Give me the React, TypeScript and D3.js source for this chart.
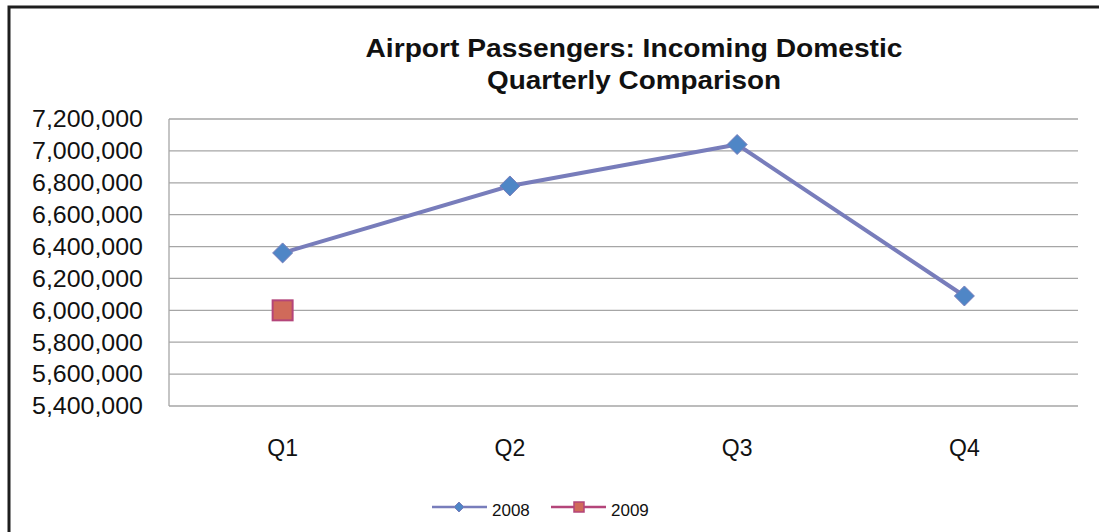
import React from "react";
import * as d3 from "d3";

const title1 = "Airport Passengers: Incoming Domestic";
const title2 = "Quarterly Comparison";
const quarters = ["Q1", "Q2", "Q3", "Q4"];
const values2008 = [6360000, 6780000, 7040000, 6090000];
const values2009 = [6000000];
const yTicks = [5400000, 5600000, 5800000, 6000000, 6200000, 6400000, 6600000, 6800000, 7000000, 7200000];
const seriesNames = ["2008", "2009"];

const W = 1099;
const H = 532;
const plot = { left: 169, right: 1078, top: 119, bottom: 406 };
const font = "'Liberation Sans', Arial, sans-serif";
const lineColor = "#787dbb";
const diamondFill = "#4f86c6";
const squareFill = "#d06a5a";
const squareStroke = "#b4457a";

export default function App() {
  const x = d3.scaleBand<string>().domain(quarters).range([plot.left, plot.right]);
  const y = d3.scaleLinear().domain([5400000, 7200000]).range([plot.bottom, plot.top]);
  const cx = (q: string) => (x(q) ?? 0) + x.bandwidth() / 2;
  const fmt = d3.format(",");
  const line = d3
    .line<number>()
    .x((_, i) => cx(quarters[i]))
    .y((d) => y(d));
  const diamond = (px: number, py: number, r: number) =>
    `M${px},${py - r}L${px + r},${py}L${px},${py + r}L${px - r},${py}Z`;

  return (
    <svg width={W} height={H} style={{ position: "absolute", left: 0, top: 0, background: "#fff" }}>
      <rect x={0} y={0} width={W} height={H} fill="#fff" />
      {/* outer frame */}
      <path d={`M9,${H} L9,7 L${W},7`} fill="none" stroke="#1e1e1e" strokeWidth={3} />
      {/* title */}
      <text x={634} y={57} textAnchor="middle" fontFamily={font} fontWeight="bold" fontSize={25} fill="#111"
        textLength={537} lengthAdjust="spacingAndGlyphs">
        {title1}
      </text>
      <text x={634} y={89} textAnchor="middle" fontFamily={font} fontWeight="bold" fontSize={25} fill="#111"
        textLength={294} lengthAdjust="spacingAndGlyphs">
        {title2}
      </text>
      {/* grid */}
      {yTicks.map((t) => (
        <g key={t}>
          <line x1={plot.left} x2={plot.right} y1={y(t)} y2={y(t)} stroke="#a6a6a6" strokeWidth={1.3} />
          <text
            x={143}
            y={y(t)}
            dy="0.36em"
            textAnchor="end"
            fontFamily={font}
            fontSize={23}
            fill="#111"
            textLength={111}
            lengthAdjust="spacingAndGlyphs"
          >
            {fmt(t)}
          </text>
        </g>
      ))}
      <line x1={plot.left} x2={plot.left} y1={plot.top} y2={plot.bottom} stroke="#a6a6a6" strokeWidth={1.3} />
      {/* x labels */}
      {quarters.map((q) => (
        <text key={q} x={cx(q)} y={456} textAnchor="middle" fontFamily={font} fontSize={23} fill="#111">
          {q}
        </text>
      ))}
      {/* 2008 series */}
      <path d={line(values2008) ?? ""} fill="none" stroke={lineColor} strokeWidth={4} strokeLinejoin="round" />
      {values2008.map((v, i) => (
        <path key={i} d={diamond(cx(quarters[i]), y(v), 10)} fill={diamondFill} stroke={lineColor} strokeWidth={1} />
      ))}
      {/* 2009 series */}
      {values2009.map((v, i) => (
        <rect
          key={i}
          x={cx(quarters[i]) - 10}
          y={y(v) - 10}
          width={20}
          height={20}
          fill={squareFill}
          stroke={squareStroke}
          strokeWidth={2}
        />
      ))}
      {/* legend */}
      <g>
        <line x1={432} x2={487} y1={507} y2={507} stroke={lineColor} strokeWidth={2.5} />
        <path d={diamond(459, 507, 5)} fill={diamondFill} stroke={lineColor} strokeWidth={1} />
        <text x={492} y={516} fontFamily={font} fontSize={17} fill="#111">
          {seriesNames[0]}
        </text>
        <line x1={551} x2={606} y1={507} y2={507} stroke={squareStroke} strokeWidth={2.5} />
        <rect x={574} y={502} width={10} height={10} fill={squareFill} stroke={squareStroke} strokeWidth={1.5} />
        <text x={611} y={516} fontFamily={font} fontSize={17} fill="#111">
          {seriesNames[1]}
        </text>
      </g>
    </svg>
  );
}
